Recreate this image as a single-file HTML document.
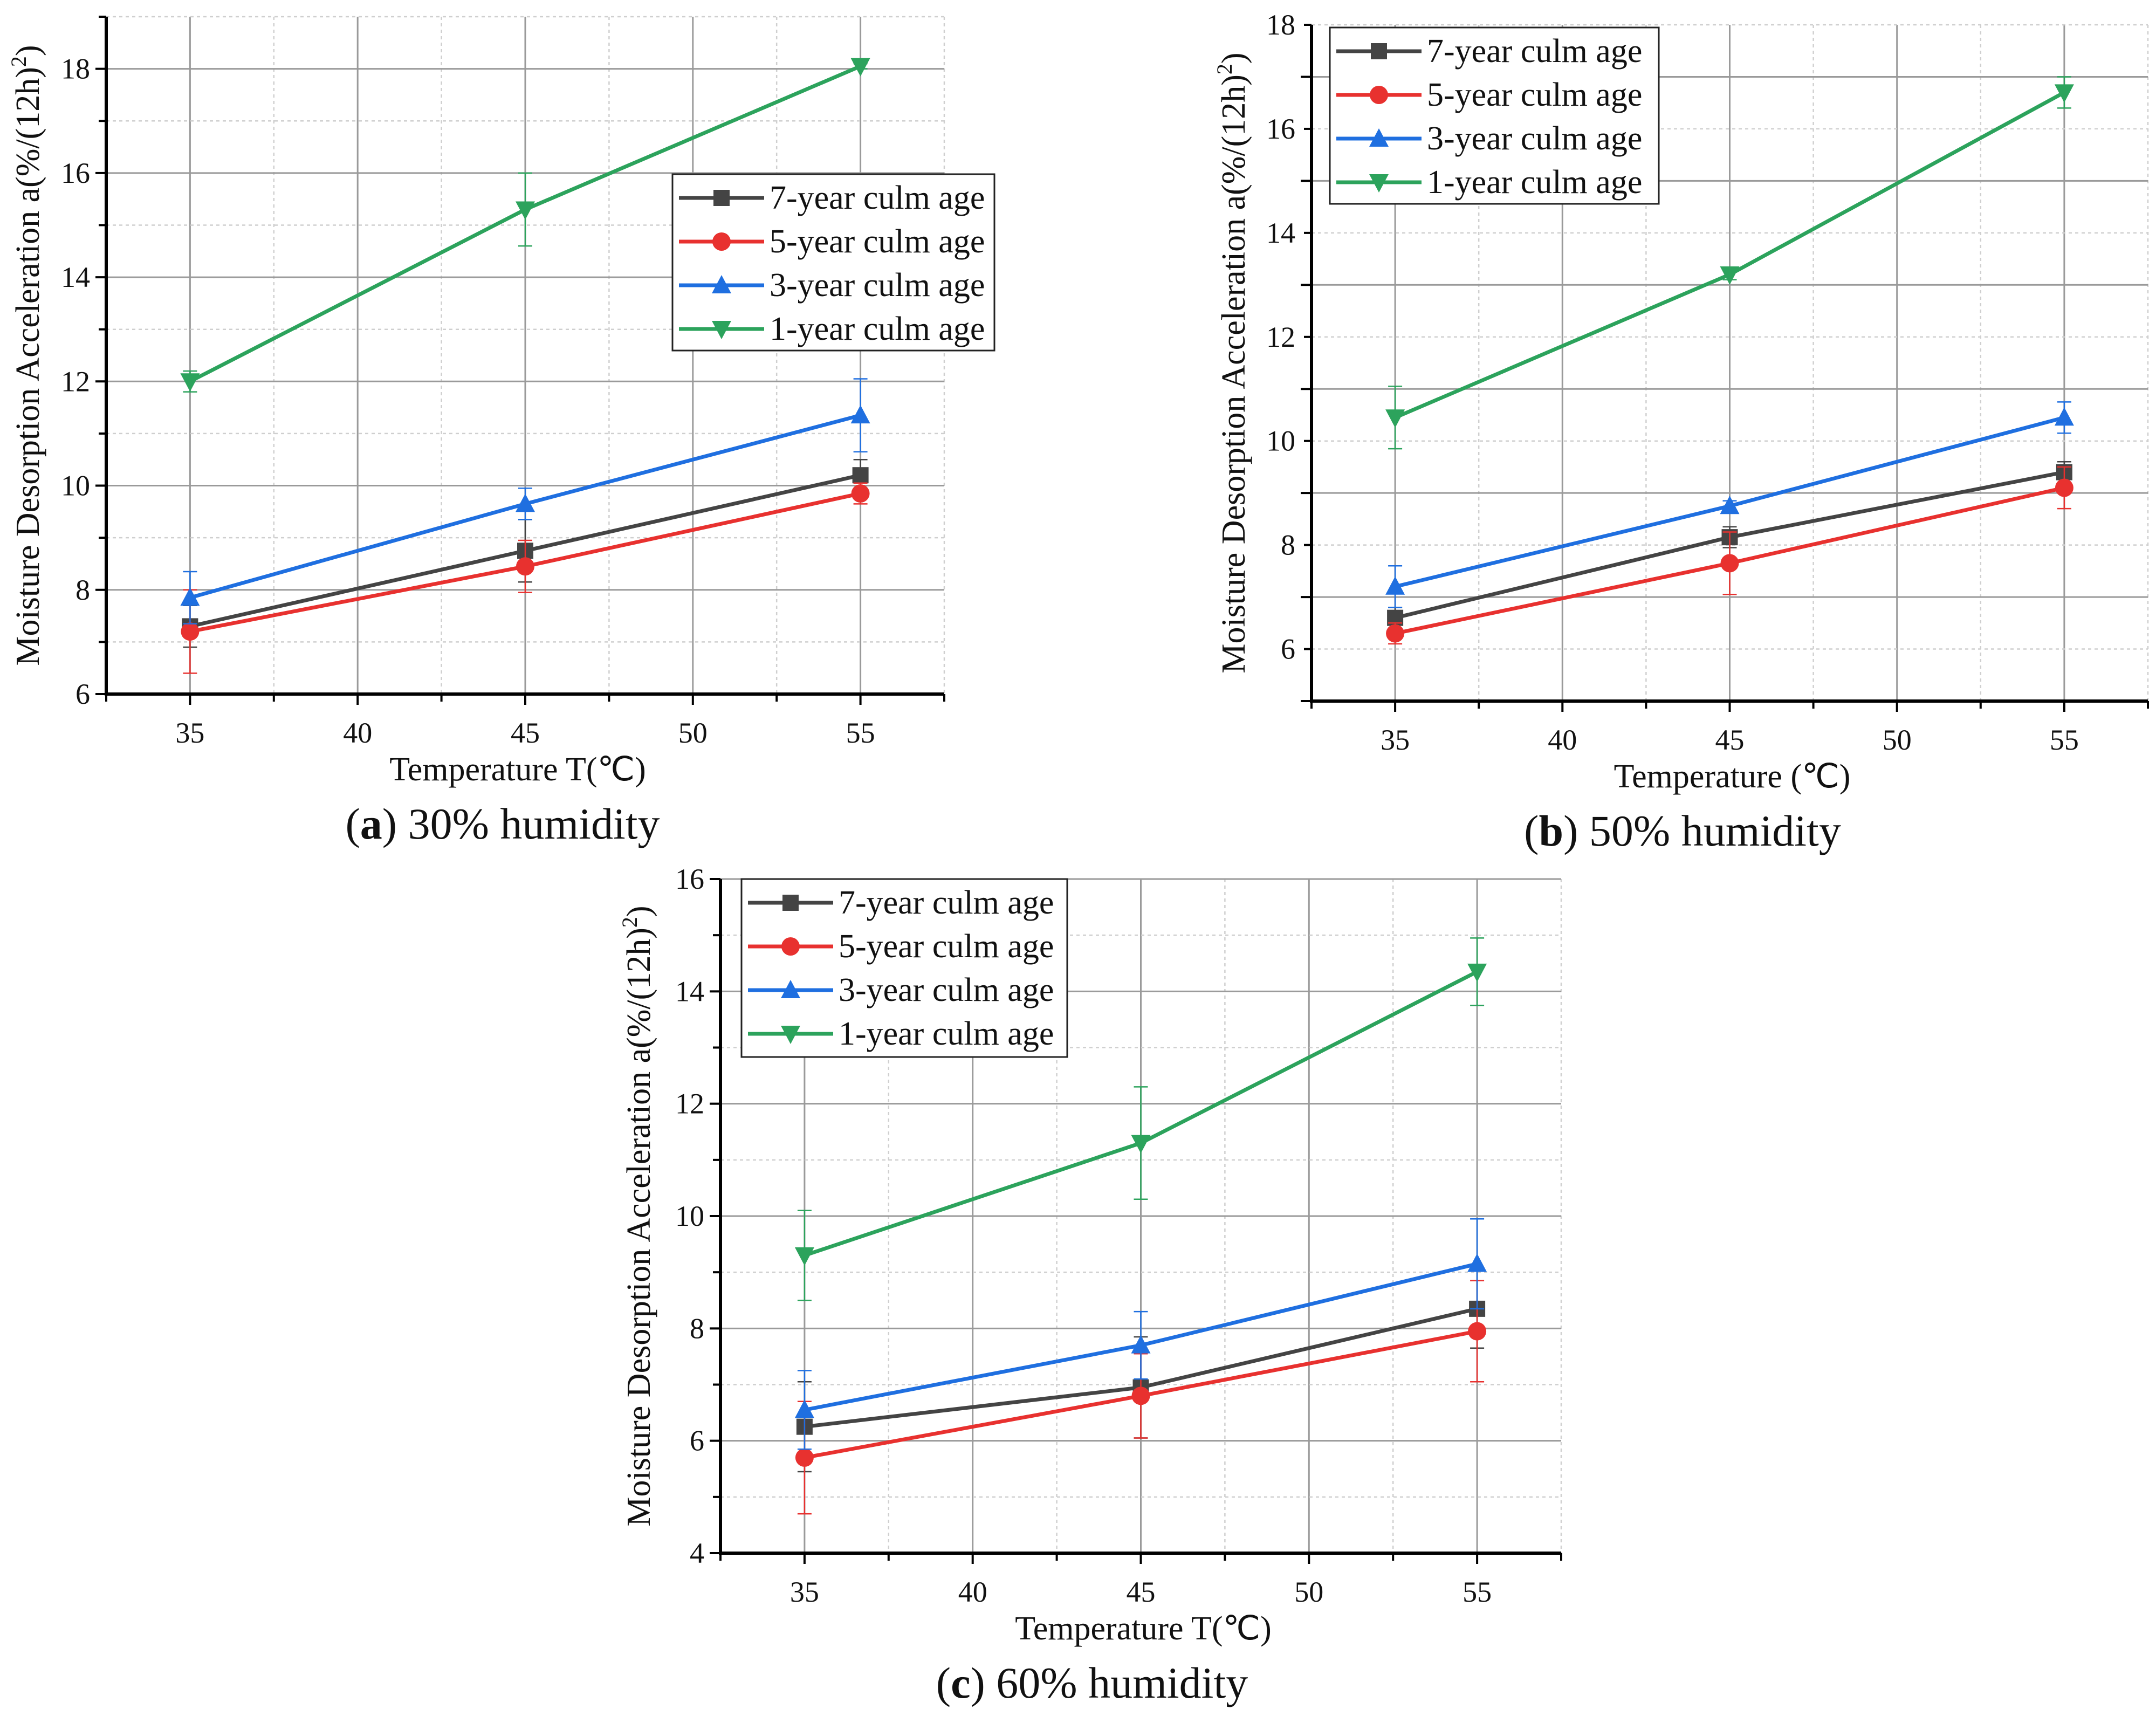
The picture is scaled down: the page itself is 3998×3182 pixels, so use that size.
<!DOCTYPE html>
<html><head><meta charset="utf-8"><style>
html,body{margin:0;padding:0;background:#fff}
svg{display:block;font-family:"Liberation Serif",serif}
svg text{font-family:"Liberation Serif",serif !important;fill:#111}
</style></head><body>
<svg id="fig" width="3998" height="3182" viewBox="0 0 3998 3182" font-family="Liberation Serif, serif" xmlns="http://www.w3.org/2000/svg"></svg>
<script>
const temps=[35,45,55];
const seriesNames=["7-year culm age","5-year culm age","3-year culm age","1-year culm age"];
const a7=[7.3,8.75,10.2], a5=[7.2,8.45,9.85], a3=[7.85,9.65,11.35], a1=[12.0,15.3,18.05];
const a7e=[0.4,0.6,0.3], a5e=[0.8,0.5,0.2], a3e=[0.5,0.3,0.7], a1e=[0.2,0.7,0.05];
const b7=[6.6,8.15,9.4], b5=[6.3,7.65,9.1], b3=[7.2,8.75,10.45], b1=[10.45,13.2,16.7];
const b7e=[0.2,0.2,0.2], b5e=[0.2,0.6,0.4], b3e=[0.4,0.1,0.3], b1e=[0.6,0.1,0.3];
const c7=[6.25,6.95,8.35], c5=[5.7,6.8,7.95], c3=[6.55,7.7,9.15], c1=[9.3,11.3,14.35];
const c7e=[0.8,0.9,0.7], c5e=[1.0,0.75,0.9], c3e=[0.7,0.6,0.8], c1e=[0.8,1.0,0.6];
const xTicks=[35,40,45,50,55];
const aYTicks=[6,8,10,12,14,16,18], bYTicks=[6,8,10,12,14,16,18], cYTicks=[4,6,8,10,12,14,16];
const colors=["#444","#e8312f","#1f6fe0","#2ca35c"];
const markers=["square","circle","up","down"];
const NS="http://www.w3.org/2000/svg";
const FF="Liberation Serif, serif";
const svg=document.getElementById('fig');
function el(tag,attrs,parent){const e=document.createElementNS(NS,tag);for(const k in attrs)e.setAttribute(k,attrs[k]);if(tag==='text')e.setAttribute('font-family',FF);(parent||svg).appendChild(e);return e;}
function marker(g,type,x,y,col){
  const s=15;
  if(type==="square")return el('rect',{x:x-s,y:y-s,width:2*s,height:2*s,fill:col},g);
  if(type==="circle")return el('circle',{cx:x,cy:y,r:s+2,fill:col},g);
  if(type==="up")return el('polygon',{points:`${x},${y-s-4} ${x-s-3},${y+s} ${x+s+3},${y+s}`,fill:col},g);
  return el('polygon',{points:`${x},${y+s+4} ${x-s-3},${y-s} ${x+s+3},${y-s}`,fill:col},g);
}
function panel(cfg){
  const g=el('g',{});
  
  
  const X=v=>cfg.L+(v-32.5)/(57.5-32.5)*(cfg.R-cfg.L);
  const Y=v=>cfg.B-(v-cfg.ymin)/(cfg.ymax-cfg.ymin)*(cfg.B-cfg.T);
  for(let v=32.5;v<=57.5;v+=2.5){const major=(v%5===0);
    const l=el('line',{x1:X(v),x2:X(v),y1:cfg.T,y2:cfg.B,stroke:major?"#9a9a9a":"#cfcfcf","stroke-width":major?3:2.5,"stroke-dasharray":major?"":"6 6"},g);
    }
  for(let v=cfg.ymin+1;v<cfg.ymax+0.01;v+=1){const major=((v-cfg.ymin)%2===0);
    const l=el('line',{x1:cfg.L,x2:cfg.R,y1:Y(v),y2:Y(v),stroke:major?"#9a9a9a":"#cfcfcf","stroke-width":major?3:2.5,"stroke-dasharray":major?"":"6 6"},g);
    }
  const ax=el('path',{d:`M${cfg.L},${cfg.T} V${cfg.B} H${cfg.R}`,fill:"none",stroke:"#000","stroke-width":6},g);
  
  for(let v=32.5;v<=57.51;v+=2.5){el('line',{x1:X(v),x2:X(v),y1:cfg.B,y2:cfg.B+(v%5===0?20:14),stroke:"#000","stroke-width":4},g);}
  for(let v=cfg.ymin;v<=cfg.ymax+0.01;v+=1){el('line',{x1:cfg.L,x2:cfg.L-((v-cfg.ymin)%2===0?20:14),y1:Y(v),y2:Y(v),stroke:"#000","stroke-width":4},g);}
  xTicks.forEach(v=>{const t=el('text',{x:X(v),y:cfg.B+90,"font-size":54,"text-anchor":"middle"},g);t.textContent=v;
    });
  cfg.yTicks.forEach(v=>{const t=el('text',{x:cfg.L-30,y:Y(v)+18,"font-size":54,"text-anchor":"end"},g);t.textContent=v;
    });
  cfg.data.forEach((d,i)=>{
    const sg=el('g',{},g);
    
    
    d.v.forEach((v,j)=>{const x=X(temps[j]);
      el('line',{x1:x,x2:x,y1:Y(v-d.e[j]),y2:Y(v+d.e[j]),stroke:colors[i],"stroke-width":2.5},sg);
      el('line',{x1:x-13,x2:x+13,y1:Y(v-d.e[j]),y2:Y(v-d.e[j]),stroke:colors[i],"stroke-width":2.5},sg);
      el('line',{x1:x-13,x2:x+13,y1:Y(v+d.e[j]),y2:Y(v+d.e[j]),stroke:colors[i],"stroke-width":2.5},sg);});
    el('polyline',{points:d.v.map((v,j)=>X(temps[j])+','+Y(v)).join(' '),fill:"none",stroke:colors[i],"stroke-width":7},sg);
    d.v.forEach((v,j)=>{const m=marker(sg,markers[i],X(temps[j]),Y(v),colors[i]);
      });
  });
  const lg=el('g',{},g);
  const lb=cfg.leg;
  el('rect',{x:lb[0],y:lb[1],width:lb[2],height:lb[3],fill:"#fff",stroke:"#222","stroke-width":3},lg);
  seriesNames.forEach((n,i)=>{const yy=lb[1]+44+i*81;
    el('line',{x1:lb[0]+12,x2:lb[0]+170,y1:yy,y2:yy,stroke:colors[i],"stroke-width":7},lg);
    marker(lg,markers[i],lb[0]+91,yy,colors[i]);
    const t=el('text',{x:lb[0]+180,y:yy+20,"font-size":62},lg);t.textContent=n;
    });
  const xt=el('text',{x:cfg.xtx,y:cfg.B+160,"font-size":62,"text-anchor":"middle"},g);xt.textContent=cfg.xtitle;
  
  const yt=el('text',{x:0,y:0,"font-size":62,"text-anchor":"middle",transform:`translate(${cfg.ytx},${(cfg.T+cfg.B)/2}) rotate(-90)`},g);
  yt.innerHTML='Moisture Desorption Acceleration a(%/(12h)<tspan dy="-24" font-size="40">2</tspan><tspan dy="24">)</tspan>';
  
  const cp=el('text',{x:cfg.capx,y:cfg.B+268,"font-size":82,"text-anchor":"middle"},g);
  cp.innerHTML='(<tspan font-weight="bold">'+cfg.cap[0]+'</tspan>) '+cfg.cap[1];
  
}
panel({name:'panel-a-30-humidity',L:197,R:1751,T:31,B:1287,ymin:6,ymax:19,yTicks:aYTicks,
  data:[{v:a7,e:a7e},{v:a5,e:a5e},{v:a3,e:a3e},{v:a1,e:a1e}],leg:[1247,323,597,327],
  xtitle:'Temperature T(℃)',xtx:960,ytx:72,capx:932,cap:['a','30% humidity']});
panel({name:'panel-b-50-humidity',L:2432,R:3983,T:46,B:1300,ymin:5,ymax:18,yTicks:bYTicks,
  data:[{v:b7,e:b7e},{v:b5,e:b5e},{v:b3,e:b3e},{v:b1,e:b1e}],leg:[2466,51,610,327],
  xtitle:'Temperature (℃)',xtx:3212,ytx:2308,capx:3120,cap:['b','50% humidity']});
panel({name:'panel-c-60-humidity',L:1336,R:2895,T:1630,B:2880,ymin:4,ymax:16,yTicks:cYTicks,
  data:[{v:c7,e:c7e},{v:c5,e:c5e},{v:c3,e:c3e},{v:c1,e:c1e}],leg:[1375,1630,604,330],
  xtitle:'Temperature T(℃)',xtx:2120,ytx:1205,capx:2025,cap:['c','60% humidity']});
</script>
</body></html>
